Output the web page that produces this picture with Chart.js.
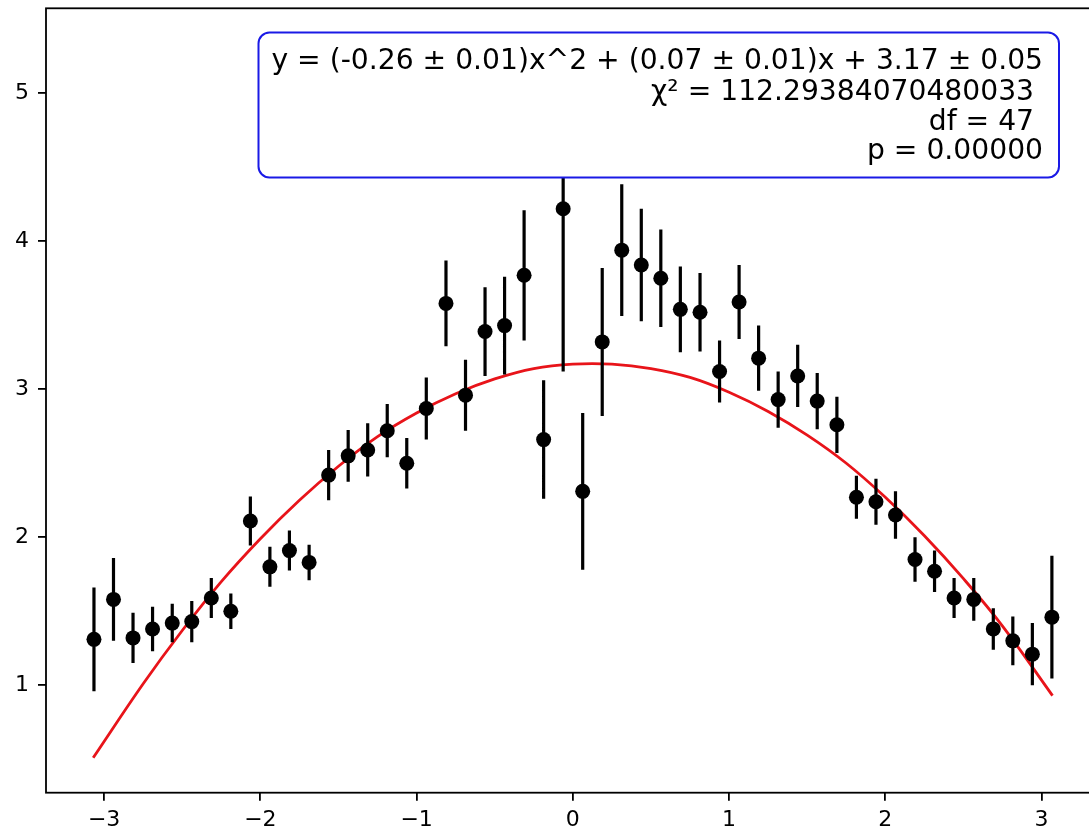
<!DOCTYPE html>
<html>
<head>
<meta charset="utf-8">
<script src="https://cdn.jsdelivr.net/npm/chart.js@4/dist/chart.umd.min.js"></script>
<style>
  html, body { margin: 0; padding: 0; background: #fff; overflow: hidden; }
  #wrap { position: absolute; left: 0; top: 0; width: 1110px; height: 831px; }
</style>
</head>
<body>
<div id="wrap"><canvas id="fitChart"></canvas></div>
<script>
// measured points
const xVals = [-3.065, -2.940, -2.815, -2.690, -2.564, -2.439, -2.314, -2.189, -2.064, -1.939,
               -1.814, -1.688, -1.563, -1.438, -1.313, -1.188, -1.063, -0.938, -0.812, -0.687,
               -0.562, -0.437, -0.312, -0.187, -0.062, 0.063, 0.188, 0.313, 0.438, 0.563,
               0.688, 0.814, 0.939, 1.064, 1.189, 1.314, 1.439, 1.564, 1.690, 1.815,
               1.940, 2.065, 2.190, 2.315, 2.440, 2.566, 2.691, 2.816, 2.941, 3.066];
const yVals = [1.31, 1.58, 1.32, 1.38, 1.42, 1.43, 1.59, 1.50, 2.11, 1.80,
               1.91, 1.83, 2.42, 2.55, 2.59, 2.72, 2.50, 2.87, 3.58, 2.96,
               3.39, 3.43, 3.77, 2.66, 4.22, 2.31, 3.32, 3.94, 3.84, 3.75,
               3.54, 3.52, 3.12, 3.59, 3.21, 2.93, 3.09, 2.92, 2.76, 2.27,
               2.24, 2.15, 1.85, 1.77, 1.59, 1.58, 1.38, 1.30, 1.21, 1.46];
const yErr  = [0.35, 0.28, 0.17, 0.15, 0.13, 0.14, 0.135, 0.12, 0.165, 0.135,
               0.135, 0.12, 0.17, 0.175, 0.18, 0.18, 0.17, 0.21, 0.29, 0.24,
               0.30, 0.33, 0.44, 0.40, 1.10, 0.53, 0.50, 0.445, 0.38, 0.33,
               0.29, 0.265, 0.21, 0.25, 0.22, 0.19, 0.21, 0.19, 0.19, 0.145,
               0.155, 0.16, 0.15, 0.14, 0.135, 0.145, 0.14, 0.165, 0.21, 0.415];

// red fit curve
const fitX = [-3.07, -2.75, -2.5, -2.25, -2, -1.75, -1.5, -1.25, -1, -0.75, -0.5, -0.25, 0,
              0.25, 0.5, 0.75, 1, 1.25, 1.5, 1.75, 2, 2.25, 2.5, 2.75, 3.07];
const fitY = [0.51, 1.01, 1.37, 1.70, 1.99, 2.25, 2.48, 2.68, 2.84, 2.97, 3.07, 3.14, 3.17,
              3.17, 3.14, 3.08, 2.98, 2.85, 2.69, 2.50, 2.27, 2.01, 1.72, 1.40, 0.93];

const xTicks = [-3, -2, -1, 0, 1, 2, 3];
const yTicks = [1, 2, 3, 4, 5];

const boxLines = [
    'y = (-0.26 \u00b1 0.01)x^2 + (0.07 \u00b1 0.01)x + 3.17 \u00b1 0.05',
    '\u03c7\u00b2 = 112.29384070480033 ',
    'df = 47 ',
    'p = 0.00000'
];

const points = xVals.map((x, i) => ({ x: x, y: yVals[i] }));
const errSegs = [];
xVals.forEach((x, i) => {
    errSegs.push({ x: x, y: yVals[i] - yErr[i] });
    errSegs.push({ x: x, y: yVals[i] + yErr[i] });
    errSegs.push({ x: x, y: null });
});
const fitPts = fitX.map((x, i) => ({ x: x, y: fitY[i] }));

// axes frame + annotation box
const framePlugin = {
    id: 'frame',
    afterDatasetsDraw(chart) {
        const { ctx, chartArea: a } = chart;
        ctx.save();
        ctx.strokeStyle = '#000';
        ctx.lineWidth = 1.8;
        ctx.strokeRect(a.left, a.top, a.right - a.left, a.bottom - a.top);

        // text box
        const bx = 258.5, by = 32.5, bw = 800.5, bh = 145, r = 11;
        ctx.beginPath();
        ctx.roundRect(bx, by, bw, bh, r);
        ctx.fillStyle = '#fff';
        ctx.fill();
        ctx.strokeStyle = '#1a1ae6';
        ctx.lineWidth = 2;
        ctx.stroke();

        ctx.fillStyle = '#000';
        ctx.font = '28.2px "DejaVu Sans"';
        ctx.textAlign = 'right';
        ctx.textBaseline = 'alphabetic';
        const baselines = [69, 100, 129.5, 158.5];
        boxLines.forEach((t, i) => ctx.fillText(t, 1043, baselines[i]));
        ctx.restore();
    }
};

Chart.defaults.font.family = '"DejaVu Sans", sans-serif';
Chart.defaults.color = '#000';

new Chart(document.getElementById('fitChart'), {
    type: 'scatter',
    data: {
        datasets: [
            {
                label: 'data',
                data: points,
                backgroundColor: '#000',
                borderColor: '#000',
                pointRadius: 7.5,
                pointHoverRadius: 7.5,
                borderWidth: 0,
                order: 0
            },
            {
                label: 'errors',
                type: 'line',
                data: errSegs,
                borderColor: '#000',
                borderWidth: 3.2,
                pointRadius: 0,
                spanGaps: false,
                fill: false,
                order: 1
            },
            {
                label: 'fit',
                type: 'line',
                data: fitPts,
                borderColor: '#e8141a',
                borderWidth: 2.8,
                pointRadius: 0,
                tension: 0.4,
                fill: false,
                order: 2
            }
        ]
    },
    options: {
        responsive: true,
        maintainAspectRatio: false,
        animation: false,
        devicePixelRatio: 1,
        layout: { padding: { top: 8.3, right: 10.3, left: 0, bottom: 0 } },
        plugins: {
            legend: { display: false },
            tooltip: { enabled: false }
        },
        scales: {
            x: {
                type: 'linear',
                min: -3.372,
                max: 3.372,
                border: { display: false },
                grid: { drawOnChartArea: false, drawTicks: true, tickLength: 8, lineWidth: 1.8, color: '#000' },
                ticks: {
                    padding: 6,
                    font: { size: 22 },
                    color: '#000',
                    callback: v => v < 0 ? '\u2212' + Math.abs(v) : String(v)
                },
                afterBuildTicks: s => { s.ticks = xTicks.map(v => ({ value: v })); },
                afterFit: s => { s.height = 38.3; s.paddingLeft = 0; s.paddingRight = 0; }
            },
            y: {
                type: 'linear',
                min: 0.274,
                max: 5.574,
                border: { display: false },
                grid: { drawOnChartArea: false, drawTicks: true, tickLength: 8, lineWidth: 1.8, color: '#000' },
                ticks: {
                    padding: 9,
                    font: { size: 22 },
                    color: '#000'
                },
                afterBuildTicks: s => { s.ticks = yTicks.map(v => ({ value: v })); },
                afterFit: s => { s.width = 46; s.paddingTop = 0; s.paddingBottom = 0; }
            }
        }
    },
    plugins: [framePlugin]
});
</script>
</body>
</html>
